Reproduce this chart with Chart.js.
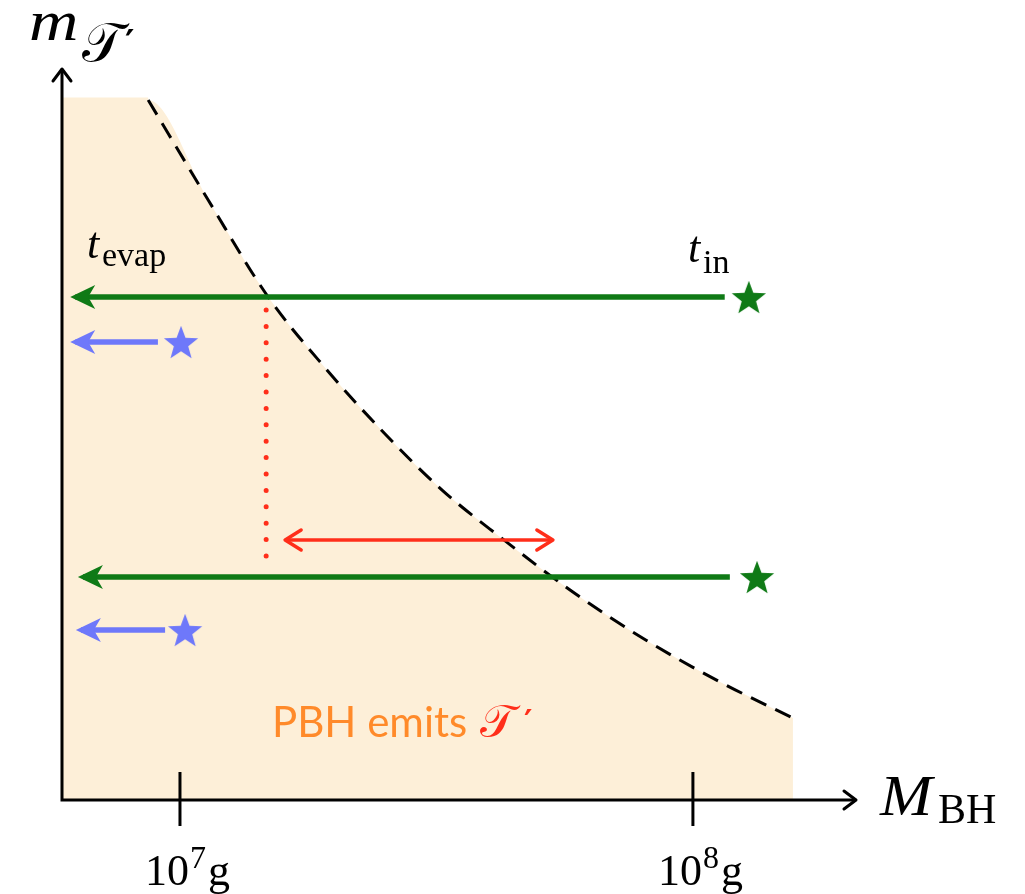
<!DOCTYPE html>
<html>
<head>
<meta charset="utf-8">
<script src="https://cdn.jsdelivr.net/npm/chart.js@4.4.1/dist/chart.umd.min.js"></script>
<style>
html,body{margin:0;padding:0;background:#fff;}
canvas{display:block;}
</style>
</head>
<body>
<canvas id="c" width="1025" height="894"></canvas>
<script>
// ---- data (x = log10(M_BH / g), y = m_T' in arbitrary units) ----
const curveX = [6.938, 7.055, 7.172, 7.285, 7.398, 7.511, 7.624, 7.766, 7.908, 8.053, 8.195];
const curveY = [9.615, 8.242, 6.909, 5.920, 5.041, 4.258, 3.613, 2.857, 2.198, 1.621, 1.126];
const regionLeftX = 6.77;
const regionTopY = 9.65;

const greenY     = [6.909, 3.063];
const greenTipX  = [6.786, 6.801];
const greenTailX = [8.062, 8.072];
const greenStarX = [8.109, 8.125];

const blueY      = [6.291, 2.335];
const blueTipX   = [6.786, 6.797];
const blueTailX  = [6.957, 6.971];
const blueStarX  = [7.002, 7.010];

const dottedX    = 7.168;
const dottedY    = [6.731, 3.132];
const doubleY    = 3.571;
const doubleX    = [7.205, 7.727];

const tickValues = [7, 8];
const tickLabels = ['7', '8'];

const COL_FILL  = '#fdefd8';
const COL_GREEN = '#0f7a16';
const COL_BLUE  = '#6e78fa';
const COL_RED   = '#ff2e1a';
const COL_ORNG  = '#ff8a2a';

function makeStar(R, color){
  const c = document.createElement('canvas');
  const s = Math.ceil(2*R+4);
  c.width = s; c.height = s;
  const g = c.getContext('2d');
  g.translate(s/2, s/2 + R*0.1);
  g.beginPath();
  const r = R*0.42;
  for (let i=0;i<10;i++){
    const a = -Math.PI/2 + i*Math.PI/5;
    const rr = i%2===0 ? R : r;
    const px = rr*Math.cos(a), py = rr*Math.sin(a);
    if(i===0) g.moveTo(px,py); else g.lineTo(px,py);
  }
  g.closePath();
  g.fillStyle = color; g.fill();
  return c;
}
const greenStar = makeStar(18, COL_GREEN);
const blueStar  = makeStar(18, COL_BLUE);

const fillData = [{x: regionLeftX, y: regionTopY}, {x: curveX[0], y: regionTopY}]
  .concat(curveX.map((x,i)=>({x, y: curveY[i]})));

const datasets = [];
datasets.push({ data: fillData, fill: 'origin', backgroundColor: COL_FILL, borderWidth: 0,
  pointRadius: 0, cubicInterpolationMode: 'monotone', order: 100 });
datasets.push({ data: curveX.map((x,i)=>({x, y: curveY[i]})), fill: false, borderColor: '#000',
  borderWidth: 3, borderDash: [17, 10], pointRadius: 0, cubicInterpolationMode: 'monotone', order: 90 });
for (let i=0;i<2;i++){
  datasets.push({ data: [{x: greenTipX[i]+0.01, y: greenY[i]}, {x: greenTailX[i], y: greenY[i]}],
    borderColor: COL_GREEN, borderWidth: 5.5, pointRadius: 0, order: 10, arrow: 'stealth', arrowColor: COL_GREEN, tip: greenTipX[i] });
  datasets.push({ data: [{x: blueTipX[i]+0.01, y: blueY[i]}, {x: blueTailX[i], y: blueY[i]}],
    borderColor: COL_BLUE, borderWidth: 5.5, pointRadius: 0, order: 10, arrow: 'stealth', arrowColor: COL_BLUE, tip: blueTipX[i] });
}
datasets.push({ data: greenStarX.map((x,i)=>({x, y: greenY[i]})), showLine: false,
  pointStyle: greenStar, order: 5 });
datasets.push({ data: blueStarX.map((x,i)=>({x, y: blueY[i]})), showLine: false,
  pointStyle: blueStar, order: 5 });
datasets.push({ data: [{x: dottedX, y: dottedY[0]}, {x: dottedX, y: dottedY[1]}],
  borderColor: COL_RED, borderWidth: 5, borderDash: [0, 16.4], borderCapStyle: 'round', pointRadius: 0, order: 20 });
datasets.push({ data: [{x: doubleX[0], y: doubleY}, {x: doubleX[1], y: doubleY}],
  borderColor: COL_RED, borderWidth: 3.5, pointRadius: 0, order: 8, arrow: 'double' });

function txt(ctx, s, x, y, font, color, align){
  ctx.font = font; ctx.fillStyle = color; ctx.textAlign = align || 'left'; ctx.textBaseline = 'alphabetic';
  ctx.fillText(s, x, y);
  return ctx.measureText(s).width;
}
const SCRIPT_FONT = '"DejaVu Serif", "DejaVu Sans", "Noto Sans"';

const deco = {
  id: 'deco',
  afterDatasetsDraw(chart){
    const ctx = chart.ctx, xs = chart.scales.x, ys = chart.scales.y, ca = chart.chartArea;
    ctx.save();
    // arrowheads
    chart.data.datasets.forEach((ds) => {
      if (!ds.arrow) return;
      const y = ys.getPixelForValue(ds.data[0].y);
      if (ds.arrow === 'stealth'){
        const tx = xs.getPixelForValue(ds.tip);
        ctx.fillStyle = ds.arrowColor;
        ctx.beginPath();
        ctx.moveTo(tx, y);
        ctx.lineTo(tx+25, y-12);
        ctx.lineTo(tx+18, y);
        ctx.lineTo(tx+25, y+12);
        ctx.closePath();
        ctx.fill();
      } else {
        const x0 = xs.getPixelForValue(ds.data[0].x), x1 = xs.getPixelForValue(ds.data[1].x);
        ctx.strokeStyle = ds.borderColor; ctx.lineWidth = 3.5; ctx.lineCap = 'round'; ctx.lineJoin='round';
        ctx.beginPath();
        ctx.moveTo(x0+16, y-10); ctx.lineTo(x0, y); ctx.lineTo(x0+16, y+10);
        ctx.moveTo(x1-16, y-10); ctx.lineTo(x1, y); ctx.lineTo(x1-16, y+10);
        ctx.stroke();
      }
    });
    // axes
    const ox = ca.left, oy = ca.bottom;
    ctx.strokeStyle = '#000'; ctx.lineWidth = 3; ctx.lineCap = 'butt';
    ctx.beginPath();
    ctx.moveTo(ox, oy+1.5); ctx.lineTo(ox, ca.top-3);
    ctx.moveTo(ox-1.5, oy); ctx.lineTo(ca.right+1, oy);
    ctx.stroke();
    ctx.lineCap = 'round'; ctx.lineJoin = 'round'; ctx.lineWidth = 3;
    ctx.beginPath();
    ctx.moveTo(ox-9, ca.top+9); ctx.lineTo(ox, ca.top-3); ctx.lineTo(ox+9, ca.top+9);
    ctx.moveTo(ca.right-11, oy-9); ctx.lineTo(ca.right+1, oy); ctx.lineTo(ca.right-11, oy+9);
    ctx.stroke();
    // ticks
    ctx.lineCap = 'butt'; ctx.lineWidth = 3;
    tickValues.forEach((v, i) => {
      const px = xs.getPixelForValue(v);
      ctx.beginPath(); ctx.moveTo(px, oy-28); ctx.lineTo(px, oy+26); ctx.stroke();
      let x = px - 35;
      x += txt(ctx, '10', x, 885, '44px "Liberation Serif"', '#000');
      x += 1;
      x += txt(ctx, tickLabels[i], x, 868, '32px "Liberation Serif"', '#000');
      x += 2;
      txt(ctx, 'g', x, 885, '44px "Liberation Serif"', '#000');
    });
    // axis titles
    ctx.save(); ctx.translate(29, 40); ctx.scale(1.18, 1);
    txt(ctx, 'm', 0, 0, 'italic 58px "Liberation Serif"', '#000');
    ctx.restore();
    txt(ctx, '𝒯', 82, 61, '54px ' + SCRIPT_FONT, '#000');
    txt(ctx, '′', 125, 55, 'bold 36px "DejaVu Sans"', '#000');
    ctx.save(); ctx.translate(880, 815); ctx.scale(1.1, 1);
    txt(ctx, 'M', 0, 0, 'italic 57px "Liberation Serif"', '#000');
    ctx.restore();
    txt(ctx, 'BH', 938, 823, '42px "Liberation Serif"', '#000');
    // t labels
    txt(ctx, 't', 87, 258, 'italic 44px "Liberation Serif"', '#000');
    txt(ctx, 'evap', 102, 266, '34px "Liberation Serif"', '#000');
    txt(ctx, 't', 688, 262, 'italic 44px "Liberation Serif"', '#000');
    txt(ctx, 'in', 703, 273, '34px "Liberation Serif"', '#000');
    // region label
    const w = txt(ctx, 'PBH emits ', 272, 737, '42px Lato', COL_ORNG);
    txt(ctx, '𝒯', 272 + w + 2, 737, '46px ' + SCRIPT_FONT, COL_RED);
    txt(ctx, '′', 272 + w + 46, 732, 'bold 32px "DejaVu Sans"', COL_RED);
    ctx.restore();
  }
};

new Chart(document.getElementById('c'), {
  type: 'line',
  data: { datasets },
  options: {
    responsive: false, animation: false, devicePixelRatio: 1,
    layout: { padding: { left: 62, right: 170, top: 72, bottom: 94 } },
    scales: {
      x: { type: 'linear', min: 6.77, max: 8.316, display: false },
      y: { type: 'linear', min: 0, max: 10, display: false }
    },
    plugins: { legend: { display: false }, tooltip: { enabled: false } },
    elements: { line: { tension: 0 } }
  },
  plugins: [deco]
});
</script>
</body>
</html>
